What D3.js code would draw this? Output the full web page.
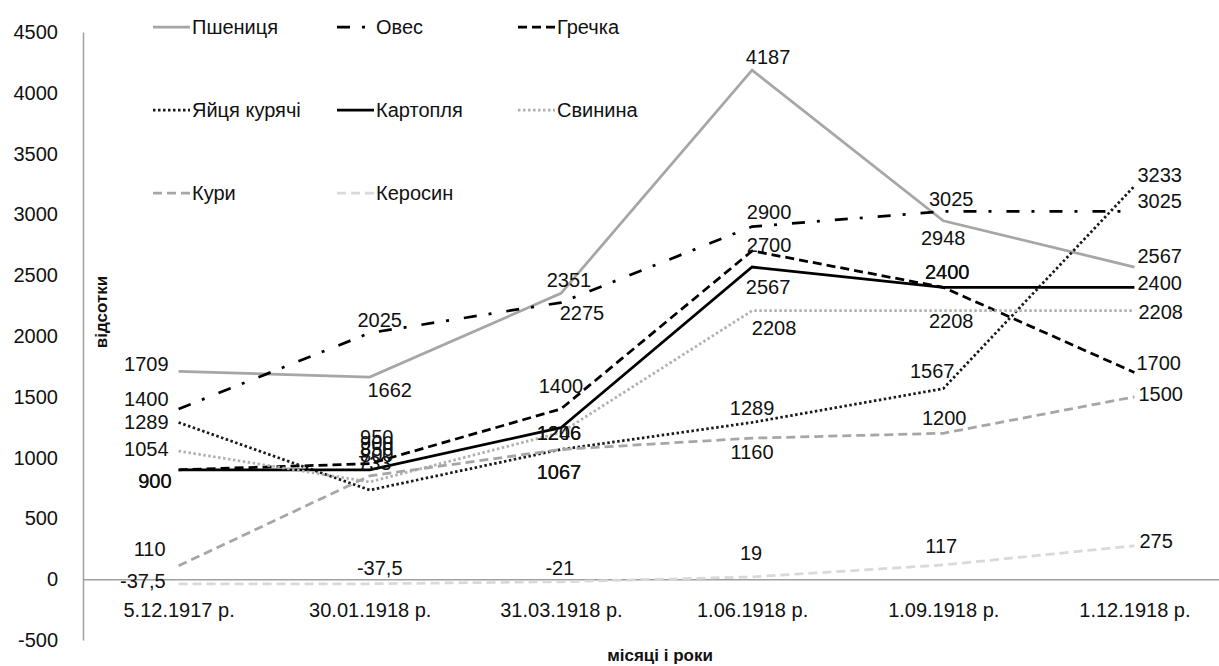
<!DOCTYPE html>
<html>
<head>
<meta charset="utf-8">
<script src="https://cdn.jsdelivr.net/npm/d3@7"></script>
<style>
  body { margin: 0; background: #fff; }
  text { font-family: 'Liberation Sans', Arial, sans-serif; fill: #111; }
</style>
</head>
<body>
<div id="chart"></div>
<script>
// data
var categories = ['5.12.1917 р.', '30.01.1918 р.', '31.03.1918 р.', '1.06.1918 р.', '1.09.1918 р.', '1.12.1918 р.']
var seriesNames = ['Пшениця', 'Овес', 'Гречка', 'Яйця курячі', 'Картопля', 'Свинина', 'Кури', 'Керосин']
var wheat = [1709, 1662, 2351, 4187, 2948, 2567]
var oats = [1400, 2025, 2275, 2900, 3025, 3025]
var buckwheat = [900, 950, 1400, 2700, 2400, 1700]
var eggs = [1289, 733, 1067, 1289, 1567, 3233]
var potato = [900, 900, 1246, 2567, 2400, 2400]
var pork = [1054, 800, 1206, 2208, 2208, 2208]
var chickens = [110, 850, 1067, 1160, 1200, 1500]
var kerosene = [-37.5, -37.5, -21, 19, 117, 275]
var yTicks = [-500, 0, 500, 1000, 1500, 2000, 2500, 3000, 3500, 4000, 4500]

var allSeries = [wheat, oats, buckwheat, eggs, potato, pork, chickens, kerosene]

// line styles, same order as seriesNames
var lineColors = ['#a6a6a6', '#000', '#000', '#1a1a1a', '#000', '#b0b0b0', '#a6a6a6', '#d9d9d9']
var lineWidths = [2.75, 2.75, 2.75, 2.75, 2.75, 2.75, 2.75, 2.75]
var lineDashes = [null, '13,12,3,15', '9,5', '2.5,2.5', null, '2.5,2.5', '9,5', '9,5']

// data label nudges [dx, dy] from each point
var labelOffsets = [
  [[-10, -7], [20, 13], [8, -13], [16, -13], [0, 17], [3, -11]],
  [[-10, -10], [10, -13], [21, 10], [17, -15], [8, -12], [3, -10]],
  [[-7, 11], [7, -27], [0, -23], [17, -6], [4, -15], [2, -9]],
  [[-10, 0], [5, -27], [-2, 23], [0, -14], [-11, -18], [3, -11]],
  [[-7, 11], [7, -27], [-2, 5], [16, 20], [4, -15], [3, -4]],
  [[-10, -2], [7, -27], [-2, 0], [22, 17], [8, 10], [4, 1]],
  [[-13, -17], [7, -27], [-2, 23], [0, 14], [1, -15], [4, -3]],
  [[-13, -3], [10, -16], [-1, -14], [-1, -24], [-2, -19], [5, -5]]
]

var width = 1219
var height = 666
var plot = { left: 83, right: 1230, top: 32, bottom: 640 }

var svg = d3
  .select('#chart')
  .append('svg')
  .attr('width', width)
  .attr('height', height)

var x = d3
  .scalePoint()
  .domain(categories)
  .range([plot.left, plot.right])
  .padding(0.5)

var y = d3
  .scaleLinear()
  .domain([-500, 4500])
  .range([plot.bottom, plot.top])

// y axis
var yAxis = svg
  .append('g')
  .attr('transform', 'translate(' + plot.left + ',0)')
  .call(d3.axisLeft(y).tickValues(yTicks).tickSize(0).tickPadding(25).tickFormat(d => String(d)))

yAxis.select('.domain').attr('stroke', '#a0a0a0').attr('stroke-width', 1.5)
yAxis.selectAll('text').style('font-size', '20px').attr('fill', '#111')

// x axis sits at zero
var xAxis = svg
  .append('g')
  .attr('transform', 'translate(0,' + y(0) + ')')
  .call(d3.axisBottom(x).tickSize(0).tickPadding(24))

xAxis.select('.domain').attr('stroke', '#a0a0a0').attr('stroke-width', 1.5)
xAxis.selectAll('text').style('font-size', '20px').attr('fill', '#111')

// axis titles
svg
  .append('text')
  .attr('transform', 'translate(101,' + 312 + ') rotate(-90)')
  .attr('text-anchor', 'middle')
  .attr('dy', '0.35em')
  .style('font-size', '17px')
  .style('font-weight', 'bold')
  .text('відсотки')

svg
  .append('text')
  .attr('x', 660)
  .attr('y', 655)
  .attr('text-anchor', 'middle')
  .attr('dy', '0.35em')
  .style('font-size', '17px')
  .style('font-weight', 'bold')
  .text('місяці і роки')

// lines
var line = d3
  .line()
  .x((d, i) => x(categories[i]))
  .y(d => y(d))

svg
  .selectAll('.series-line')
  .data(allSeries)
  .enter()
  .append('path')
  .attr('class', 'series-line')
  .attr('d', d => line(d))
  .attr('fill', 'none')
  .attr('stroke', (d, i) => lineColors[i])
  .attr('stroke-width', (d, i) => lineWidths[i])
  .attr('stroke-dasharray', (d, i) => lineDashes[i])

// data labels
var formatLabel = v => String(v).replace('.', ',')

allSeries.forEach((values, s) => {
  svg
    .selectAll('.label-' + s)
    .data(values)
    .enter()
    .append('text')
    .attr('class', 'label-' + s)
    .attr('x', (d, i) => x(categories[i]) + labelOffsets[s][i][0])
    .attr('y', (d, i) => y(d) + labelOffsets[s][i][1])
    .attr('dy', '0.35em')
    .attr('text-anchor', (d, i) => {
      if (i === 0) return 'end'
      if (i === categories.length - 1) return 'start'
      return 'middle'
    })
    .style('font-size', '20px')
    .text(d => formatLabel(d))
})

// legend, three columns
var legendCols = [153, 337, 518]
var legendRows = [27, 110, 193]

var legend = svg
  .selectAll('.legend')
  .data(seriesNames)
  .enter()
  .append('g')
  .attr('class', 'legend')
  .attr('transform', (d, i) => 'translate(' + legendCols[i % 3] + ',' + legendRows[Math.floor(i / 3)] + ')')

legend
  .append('line')
  .attr('x1', 0)
  .attr('x2', 37)
  .attr('stroke', (d, i) => lineColors[i])
  .attr('stroke-width', (d, i) => lineWidths[i])
  .attr('stroke-dasharray', (d, i) => lineDashes[i])

legend
  .append('text')
  .attr('x', 39)
  .attr('dy', '0.35em')
  .style('font-size', '20px')
  .text(d => d)
</script>
</body>
</html>
